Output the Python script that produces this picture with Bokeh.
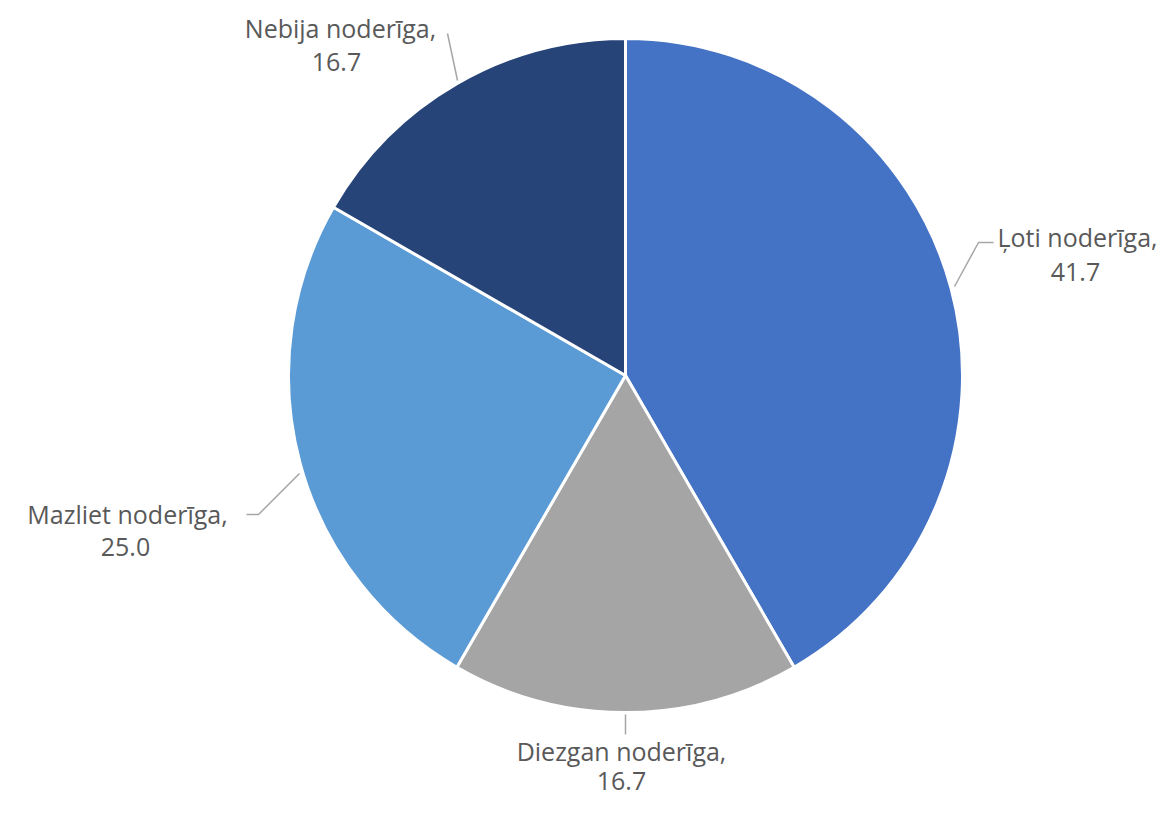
import math
from bokeh.plotting import figure
from bokeh.models import Range1d
from bokeh.core.properties import value
from bokeh.embed import file_html
from bokeh.resources import INLINE

categories = ["Ļoti noderīga", "Diezgan noderīga", "Mazliet noderīga", "Nebija noderīga"]
values = [41.7, 16.7, 25.0, 16.7]
labels = ["41.7", "16.7", "25.0", "16.7"]
colors = ["#4472C4", "#A5A5A5", "#5B9BD5", "#264478"]

W, H = 1160, 798
p = figure(width=W, height=H, output_backend="svg", toolbar_location=None,
           x_range=Range1d(0, W), y_range=Range1d(814 - H, 814),
           min_border=0)
p.axis.visible = False
p.grid.visible = False
p.outline_line_color = None

def Y(py):
    return 814 - py

cx, cy, r = 625, Y(375), 337
total = sum(values)
starts, ends = [], []
cum = 0.0
for v in values:
    starts.append(math.pi / 2 - cum / total * 2 * math.pi)
    cum += v
    ends.append(math.pi / 2 - cum / total * 2 * math.pi)

p.wedge(x=[cx] * len(values), y=[cy] * len(values), radius=r,
        start_angle=starts, end_angle=ends, direction="clock",
        fill_color=colors, line_color="white", line_width=3)

# leader lines
lc = "#A6A6A6"
p.line(x=[954, 978, 993], y=[Y(286), Y(242), Y(242)], line_color=lc, line_width=1.5)
p.line(x=[457, 447], y=[Y(80), Y(33)], line_color=lc, line_width=1.5)
p.line(x=[299, 258, 246], y=[Y(473), Y(514), Y(514)], line_color=lc, line_width=1.5)
p.line(x=[625, 625], y=[Y(714), Y(734)], line_color=lc, line_width=1.5)

# labels
pos = [((1077, 236), (1075, 271)),
       ((621, 750), (621, 780)),
       ((127, 513), (125, 546)),
       ((340, 27), (336, 61))]
for cat, lab, (l1, l2) in zip(categories, labels, pos):
    p.text(x=[l1[0]], y=[Y(l1[1])], text=[cat + ","], text_align="center",
           text_baseline="middle", text_font=value("Open Sans"),
           text_font_size="25px", text_color="#595959")
    p.text(x=[l2[0]], y=[Y(l2[1])], text=[lab], text_align="center",
           text_baseline="middle", text_font=value("Open Sans"),
           text_font_size="25px", text_color="#595959")

open("out.html", "w").write(file_html(p, INLINE))
